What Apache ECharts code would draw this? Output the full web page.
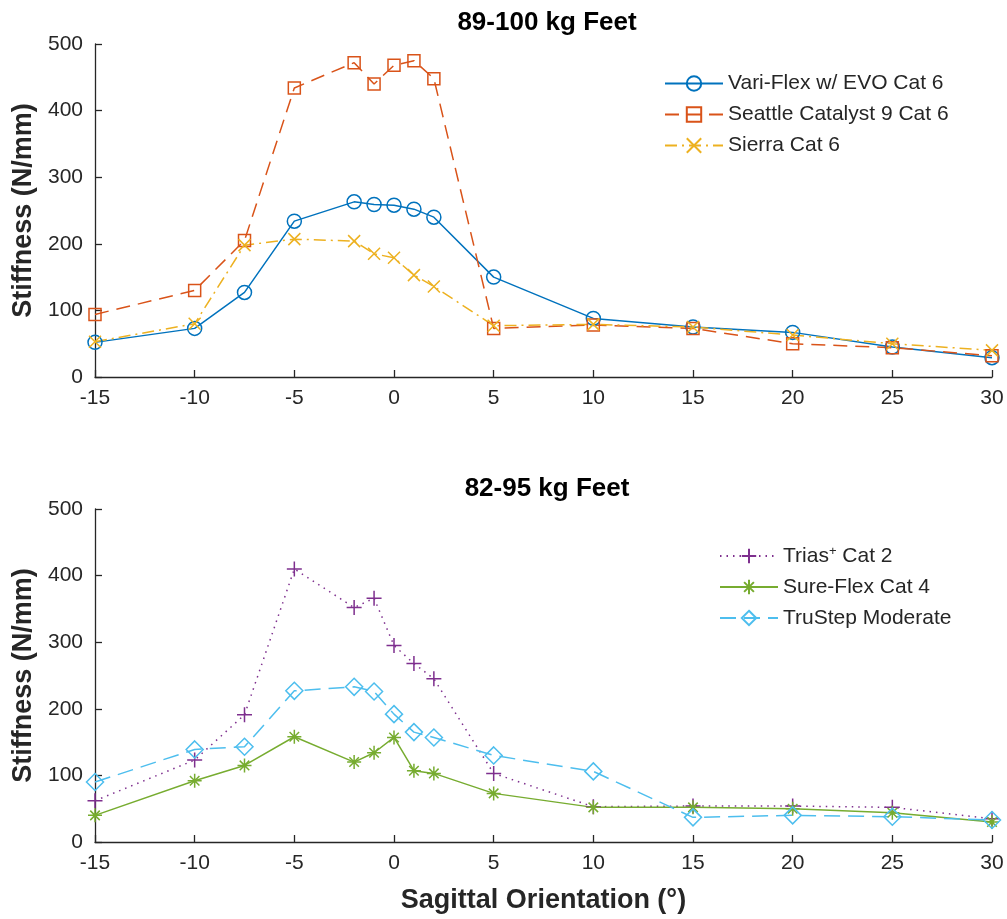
<!DOCTYPE html>
<html>
<head>
    <meta charset="utf-8">
    <style>
        html, body {
            height: 100%;
            margin: 0;
            padding: 0;
            background: #fff;
        }

        .container {
            width: 1007px;
            height: 919px;
        }
    </style>
</head>
<body>
<div id="main" class="container"></div>

<script src="https://cdn.jsdelivr.net/npm/echarts@6/dist/echarts.min.js"></script>
<script type="text/javascript">
// sagittal orientation (deg) - shared by every series
var angles = [-15, -10, -7.5, -5, -2, -1, 0, 1, 2, 5, 10, 15, 20, 25, 30];

// 89-100 kg feet
var variFlex = [52, 73, 127, 234, 263, 259, 258, 252, 240, 150, 88, 75, 67, 45, 29];
var seattle = [94, 130, 205, 434, 472, 440, 468, 475, 448, 73, 78, 73, 50, 44, 32];
var sierra = [53, 80, 198, 207, 204, 185, 179, 153, 136, 77, 79, 75, 63, 50, 40];

// 82-95 kg feet
var trias = [62, 123, 191, 410, 352, 366, 295, 268, 245, 103, 53, 54, 54, 52, 35];
var sureFlex = [40, 92, 115, 158, 120, 134, 157, 107, 103, 73, 52, 52, 50, 44, 30];
var truStep = [90, 139, 143, 227, 233, 226, 192, 165, 157, 130, 106, 37, 40, 38, 33];

var titles = ['89-100 kg Feet', '82-95 kg Feet'];

var textColor = '#262626';
var fontName = 'Liberation Sans';

function pairs(ys) {
    return angles.map(function (a, i) { return [a, ys[i]]; });
}

var X_MARK = 'path://M0,0L10,10M10,0L0,10';
var PLUS_MARK = 'path://M5,0L5,10M0,5L10,5';
var STAR_MARK = 'path://M5,0L5,10M0,5L10,5M1.6,1.6L8.4,8.4M8.4,1.6L1.6,8.4';

function makeSeries(name, ys, idx, color, symbol, size, dash) {
    return {
        name: name,
        type: 'line',
        xAxisIndex: idx,
        yAxisIndex: idx,
        data: pairs(ys),
        symbol: symbol,
        symbolSize: size,
        showAllSymbol: true,
        lineStyle: {color: color, width: 1.5, type: dash},
        itemStyle: {color: 'transparent', borderColor: color, borderWidth: 1.5},
        emphasis: {disabled: true},
        animation: false
    };
}

function makeXAxis(idx, showName) {
    return {
        type: 'value',
        gridIndex: idx,
        min: -15,
        max: 30,
        interval: 5,
        name: showName ? 'Sagittal Orientation (°)' : '',
        nameLocation: 'middle',
        nameGap: 45,
        nameTextStyle: {color: textColor, fontSize: 27, fontWeight: 'bold', fontFamily: fontName},
        axisLine: {show: true, onZero: false, lineStyle: {color: textColor, width: 1.3}},
        axisTick: {show: true, inside: true, length: 7, lineStyle: {color: textColor, width: 1.3}},
        axisLabel: {color: textColor, fontSize: 21, fontFamily: fontName, margin: 11},
        splitLine: {show: false}
    };
}

function makeYAxis(idx) {
    return {
        type: 'value',
        gridIndex: idx,
        min: 0,
        max: 500,
        interval: 100,
        name: 'Stiffness (N/mm)',
        nameLocation: 'middle',
        nameGap: 58,
        nameTextStyle: {color: textColor, fontSize: 27, fontWeight: 'bold', fontFamily: fontName},
        axisLine: {show: true, onZero: false, lineStyle: {color: textColor, width: 1.3}},
        axisTick: {show: true, inside: true, length: 7, lineStyle: {color: textColor, width: 1.3}},
        axisLabel: {color: textColor, fontSize: 21, fontFamily: fontName, margin: 12},
        splitLine: {show: false}
    };
}

var legendText = {
    color: textColor,
    fontSize: 21,
    fontFamily: fontName,
    lineHeight: 20,
    rich: {
        sup: {fontSize: 13, fontFamily: fontName, color: textColor, padding: [0, 0, 9, 0]}
    }
};

var chart = echarts.init(document.getElementById('main'), null, {renderer: 'canvas'});

var option = {
    backgroundColor: '#fff',
    animation: false,
    title: [
        {
            text: titles[0], left: 542, top: 5, textAlign: 'center',
            textStyle: {color: '#000', fontSize: 26, fontWeight: 'bold', fontFamily: fontName}
        },
        {
            text: titles[1], left: 542, top: 471, textAlign: 'center',
            textStyle: {color: '#000', fontSize: 26, fontWeight: 'bold', fontFamily: fontName}
        }
    ],
    legend: [
        {
            data: ['Vari-Flex w/ EVO Cat 6', 'Seattle Catalyst 9 Cat 6', 'Sierra Cat 6'],
            orient: 'vertical',
            left: 659,
            top: 68,
            itemWidth: 58,
            itemHeight: 18,
            itemGap: 10,
            selectedMode: false,
            textStyle: legendText
        },
        {
            data: ['Trias+ Cat 2', 'Sure-Flex Cat 4', 'TruStep Moderate'],
            orient: 'vertical',
            left: 714,
            top: 540,
            itemWidth: 58,
            itemHeight: 18,
            itemGap: 10,
            selectedMode: false,
            formatter: function (name) {
                return name === 'Trias+ Cat 2' ? 'Trias{sup|+} Cat 2' : name;
            },
            textStyle: legendText
        }
    ],
    grid: [
        {left: 95, right: 15, top: 44, bottom: 542},
        {left: 95, right: 15, top: 509, bottom: 77}
    ],
    xAxis: [makeXAxis(0, false), makeXAxis(1, true)],
    yAxis: [makeYAxis(0), makeYAxis(1)],
    series: [
        makeSeries('Vari-Flex w/ EVO Cat 6', variFlex, 0, '#0072BD', 'circle', 14, 'solid'),
        makeSeries('Seattle Catalyst 9 Cat 6', seattle, 0, '#D95319', 'rect', 12, [14, 8]),
        makeSeries('Sierra Cat 6', sierra, 0, '#EDB120', X_MARK, 12, [12, 5, 2, 5]),
        makeSeries('Trias+ Cat 2', trias, 1, '#7E2F8E', PLUS_MARK, 15, [1.5, 5]),
        makeSeries('Sure-Flex Cat 4', sureFlex, 1, '#77AC30', STAR_MARK, 14, 'solid'),
        makeSeries('TruStep Moderate', truStep, 1, '#4DBEEE', 'diamond', 17, [16, 8])
    ]
};

chart.setOption(option);
</script>
</body>
</html>
